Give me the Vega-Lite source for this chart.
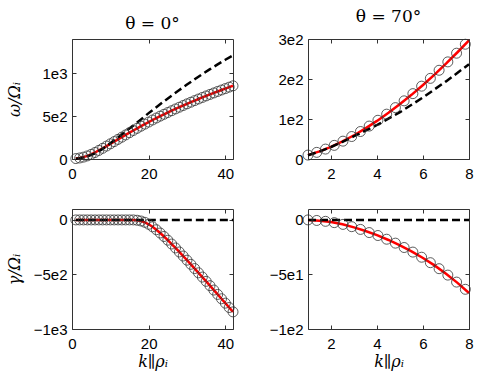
{
  "$schema": "https://vega.github.io/schema/vega-lite/v6.json",
  "background": "white",
  "padding": {"left": 5, "top": 7, "right": 5, "bottom": 5},
  "bounds": "flush",
  "spacing": {"row": 50, "column": 75},
  "columns": 2,
  "datasets": {
    "tl_c": [
      {"k":1,"v":5},{"k":2,"v":12},{"k":3,"v":22},{"k":4,"v":36},{"k":5,"v":54},{"k":6,"v":76},{"k":7,"v":100},{"k":8,"v":125},{"k":9,"v":151},{"k":10,"v":177},
      {"k":11,"v":203},{"k":12,"v":229},{"k":13,"v":255},{"k":14,"v":281},{"k":15,"v":307},{"k":16,"v":333},{"k":17,"v":358},{"k":18,"v":383},{"k":19,"v":407},{"k":20,"v":431},
      {"k":21,"v":455},{"k":22,"v":478},{"k":23,"v":500},{"k":24,"v":521.5},{"k":25,"v":542.5},{"k":26,"v":563.5},{"k":27,"v":584},{"k":28,"v":604},{"k":29,"v":624},{"k":30,"v":643.5},
      {"k":31,"v":662.5},{"k":32,"v":681.5},{"k":33,"v":700},{"k":34,"v":718},{"k":35,"v":736},{"k":36,"v":753.5},{"k":37,"v":771},{"k":38,"v":788},{"k":39,"v":805},{"k":40,"v":821.5},
      {"k":41,"v":838},{"k":42,"v":854}
    ],
    "tl_d": [
      {"k":1,"v":3},{"k":2,"v":8},{"k":4,"v":30},{"k":6,"v":65},{"k":8,"v":118},{"k":10,"v":185},{"k":12,"v":252},{"k":14,"v":322},{"k":16,"v":390},{"k":18,"v":462},
      {"k":20,"v":535},{"k":22,"v":605},{"k":24,"v":673},{"k":26,"v":740},{"k":28,"v":805},{"k":30,"v":868},{"k":32,"v":930},{"k":34,"v":990},{"k":36,"v":1048},{"k":38,"v":1104},
      {"k":40,"v":1158},{"k":42,"v":1210}
    ],
    "tr_c": [
      {"k":1,"v":9.8},{"k":1.38,"v":16.6},{"k":1.76,"v":24.8},{"k":2.14,"v":34.1},{"k":2.52,"v":44.6},{"k":2.9,"v":56.2},{"k":3.28,"v":68.7},{"k":3.66,"v":82.3},{"k":4.04,"v":96.8},{"k":4.42,"v":112.1},
      {"k":4.8,"v":128.4},{"k":5.18,"v":145.4},{"k":5.56,"v":163.4},{"k":5.94,"v":182.1},{"k":6.32,"v":201.6},{"k":6.7,"v":221.8},{"k":7.08,"v":242.8},{"k":7.46,"v":264.5},{"k":7.84,"v":286.9}
    ],
    "tr_r": [
      {"k":1,"v":9.8},{"k":1.5,"v":19.1},{"k":2,"v":30.5},{"k":2.5,"v":44.0},{"k":3,"v":59.4},{"k":3.5,"v":76.5},{"k":4,"v":95.2},{"k":4.5,"v":115.4},
      {"k":5,"v":137.3},{"k":5.5,"v":160.4},{"k":6,"v":185.1},{"k":6.5,"v":211.1},{"k":7,"v":238.3},{"k":7.5,"v":266.9},{"k":8,"v":296.6}
    ],
    "tr_d": [
      {"k":1,"v":9.5},{"k":1.5,"v":18.5},{"k":2,"v":30},{"k":2.5,"v":43},{"k":3,"v":57},{"k":3.5,"v":71},{"k":4,"v":85},{"k":5,"v":117},{"k":6,"v":154},{"k":7,"v":194},{"k":8,"v":237}
    ],
    "bl_c": [
      {"k":1,"v":0},{"k":2,"v":0},{"k":3,"v":0},{"k":4,"v":0},{"k":5,"v":0},{"k":6,"v":0},{"k":7,"v":0},{"k":8,"v":0},{"k":9,"v":0},{"k":10,"v":0},
      {"k":11,"v":0},{"k":12,"v":0},{"k":13,"v":0},{"k":14,"v":0},{"k":15,"v":0},{"k":16,"v":0},{"k":17,"v":-3},{"k":18,"v":-10},{"k":19,"v":-22},{"k":20,"v":-40},
      {"k":21,"v":-63},{"k":22,"v":-90},{"k":23,"v":-120},{"k":24,"v":-152},{"k":25,"v":-186},{"k":26,"v":-221},{"k":27,"v":-257},{"k":28,"v":-294},{"k":29,"v":-331},{"k":30,"v":-369},
      {"k":31,"v":-407},{"k":32,"v":-446},{"k":33,"v":-485},{"k":34,"v":-524},{"k":35,"v":-563},{"k":36,"v":-603},{"k":37,"v":-643},{"k":38,"v":-683},{"k":39,"v":-723},{"k":40,"v":-763},
      {"k":41,"v":-803},{"k":42,"v":-843}
    ],
    "bl_d": [{"k":1,"v":0},{"k":42,"v":0}],
    "br_c": [
      {"k":1,"v":0},{"k":1.38,"v":-0.5},{"k":1.76,"v":-1.3},{"k":2.14,"v":-2.5},{"k":2.52,"v":-4.1},{"k":2.9,"v":-6.2},{"k":3.28,"v":-8.7},{"k":3.66,"v":-11.6},{"k":4.04,"v":-14.3},{"k":4.42,"v":-17.7},
      {"k":4.8,"v":-21.3},{"k":5.18,"v":-25.3},{"k":5.56,"v":-29.5},{"k":5.94,"v":-34.2},{"k":6.32,"v":-39.2},{"k":6.7,"v":-44.7},{"k":7.08,"v":-50.6},{"k":7.46,"v":-57.0},{"k":7.84,"v":-63.6}
    ],
    "br_r": [
      {"k":1,"v":0},{"k":1.5,"v":-0.7},{"k":2,"v":-2.0},{"k":2.5,"v":-4.0},{"k":3,"v":-6.8},{"k":3.5,"v":-10.2},{"k":4,"v":-14.0},{"k":4.5,"v":-18.4},
      {"k":5,"v":-23.3},{"k":5.5,"v":-28.8},{"k":6,"v":-34.9},{"k":6.5,"v":-41.7},{"k":7,"v":-49.3},{"k":7.5,"v":-57.7},{"k":8,"v":-67.0}
    ],
    "br_d": [{"k":1,"v":0},{"k":8,"v":0}]
  },
  "concat": [
    {
      "width": 161, "height": 120,
      "title": {"text": "θ = 0°"},
      "layer": [
        {"data": {"name": "tl_c"}, "mark": {"type": "line", "color": "#ff0000", "strokeWidth": 2.5},
         "encoding": {
           "x": {"field": "k", "type": "quantitative", "scale": {"domain": [0, 42], "nice": false, "zero": false}, "axis": {"values": [0, 20, 40], "title": null}},
           "y": {"field": "v", "type": "quantitative", "scale": {"domain": [0, 1400], "nice": false, "zero": false}, "axis": {"values": [0, 500, 1000], "title": "ω/Ωᵢ", "titlePadding": 19, "labelExpr": "datum.value == 0 ? '0' : replace(format(datum.value, '.0e'), '+', '')"}}
         }},
        {"data": {"name": "tl_d"}, "mark": {"type": "line", "color": "#000", "strokeWidth": 2.5, "strokeDash": [8, 4]},
         "encoding": {
           "x": {"field": "k", "type": "quantitative", "scale": {"domain": [0, 42], "nice": false, "zero": false}, "axis": null},
           "y": {"field": "v", "type": "quantitative", "scale": {"domain": [0, 1400], "nice": false, "zero": false}, "axis": null}
         }},
        {"data": {"name": "tl_c"}, "mark": {"type": "point", "shape": "circle", "size": 100, "filled": false, "color": "#333", "strokeWidth": 0.8, "opacity": 1},
         "encoding": {
           "x": {"field": "k", "type": "quantitative", "scale": {"domain": [0, 42], "nice": false, "zero": false}, "axis": {"orient": "top", "values": [0, 20, 40], "labels": false, "title": null}},
           "y": {"field": "v", "type": "quantitative", "scale": {"domain": [0, 1400], "nice": false, "zero": false}, "axis": {"orient": "right", "values": [0, 500, 1000], "labels": false, "title": null}}
         }}
      ],
      "resolve": {"axis": {"x": "independent", "y": "independent"}}
    },
    {
      "width": 161, "height": 120,
      "title": {"text": "θ = 70°"},
      "layer": [
        {"data": {"name": "tr_r"}, "mark": {"type": "line", "color": "#ff0000", "strokeWidth": 2.5},
         "encoding": {
           "x": {"field": "k", "type": "quantitative", "scale": {"domain": [1, 8], "nice": false, "zero": false}, "axis": {"values": [2, 4, 6, 8], "title": null}},
           "y": {"field": "v", "type": "quantitative", "scale": {"domain": [0, 300], "nice": false, "zero": false}, "axis": {"values": [0, 100, 200, 300], "title": null, "labelExpr": "datum.value == 0 ? '0' : replace(format(datum.value, '.0e'), '+', '')"}}
         }},
        {"data": {"name": "tr_d"}, "mark": {"type": "line", "color": "#000", "strokeWidth": 2.5, "strokeDash": [8, 4]},
         "encoding": {
           "x": {"field": "k", "type": "quantitative", "scale": {"domain": [1, 8], "nice": false, "zero": false}, "axis": null},
           "y": {"field": "v", "type": "quantitative", "scale": {"domain": [0, 300], "nice": false, "zero": false}, "axis": null}
         }},
        {"data": {"name": "tr_c"}, "mark": {"type": "point", "shape": "circle", "size": 100, "filled": false, "color": "#333", "strokeWidth": 0.8, "opacity": 1},
         "encoding": {
           "x": {"field": "k", "type": "quantitative", "scale": {"domain": [1, 8], "nice": false, "zero": false}, "axis": {"orient": "top", "values": [2, 4, 6, 8], "labels": false, "title": null}},
           "y": {"field": "v", "type": "quantitative", "scale": {"domain": [0, 300], "nice": false, "zero": false}, "axis": {"orient": "right", "values": [0, 100, 200, 300], "labels": false, "title": null}}
         }}
      ],
      "resolve": {"axis": {"x": "independent", "y": "independent"}}
    },
    {
      "width": 161, "height": 120,
      "layer": [
        {"data": {"name": "bl_c"}, "mark": {"type": "line", "color": "#ff0000", "strokeWidth": 2.5},
         "encoding": {
           "x": {"field": "k", "type": "quantitative", "scale": {"domain": [0, 42], "nice": false, "zero": false}, "axis": {"values": [0, 20, 40], "title": "k∥ρᵢ"}},
           "y": {"field": "v", "type": "quantitative", "scale": {"domain": [-1000, 100], "nice": false, "zero": false}, "axis": {"values": [0, -500, -1000], "title": "γ/Ωᵢ", "titlePadding": 11, "labelExpr": "datum.value == 0 ? '0' : replace(format(datum.value, '.0e'), '+', '')"}}
         }},
        {"data": {"name": "bl_d"}, "mark": {"type": "line", "color": "#000", "strokeWidth": 2.5, "strokeDash": [8, 4]},
         "encoding": {
           "x": {"field": "k", "type": "quantitative", "scale": {"domain": [0, 42], "nice": false, "zero": false}, "axis": null},
           "y": {"field": "v", "type": "quantitative", "scale": {"domain": [-1000, 100], "nice": false, "zero": false}, "axis": null}
         }},
        {"data": {"name": "bl_c"}, "mark": {"type": "point", "shape": "circle", "size": 100, "filled": false, "color": "#333", "strokeWidth": 0.8, "opacity": 1},
         "encoding": {
           "x": {"field": "k", "type": "quantitative", "scale": {"domain": [0, 42], "nice": false, "zero": false}, "axis": {"orient": "top", "values": [0, 20, 40], "labels": false, "title": null}},
           "y": {"field": "v", "type": "quantitative", "scale": {"domain": [-1000, 100], "nice": false, "zero": false}, "axis": {"orient": "right", "values": [0, -500, -1000], "labels": false, "title": null}}
         }}
      ],
      "resolve": {"axis": {"x": "independent", "y": "independent"}}
    },
    {
      "width": 161, "height": 120,
      "layer": [
        {"data": {"name": "br_r"}, "mark": {"type": "line", "color": "#ff0000", "strokeWidth": 2.5},
         "encoding": {
           "x": {"field": "k", "type": "quantitative", "scale": {"domain": [1, 8], "nice": false, "zero": false}, "axis": {"values": [2, 4, 6, 8], "title": "k∥ρᵢ"}},
           "y": {"field": "v", "type": "quantitative", "scale": {"domain": [-100, 10], "nice": false, "zero": false}, "axis": {"values": [0, -50, -100], "title": null, "labelExpr": "datum.value == 0 ? '0' : replace(format(datum.value, '.0e'), '+', '')"}}
         }},
        {"data": {"name": "br_d"}, "mark": {"type": "line", "color": "#000", "strokeWidth": 2.5, "strokeDash": [8, 4]},
         "encoding": {
           "x": {"field": "k", "type": "quantitative", "scale": {"domain": [1, 8], "nice": false, "zero": false}, "axis": null},
           "y": {"field": "v", "type": "quantitative", "scale": {"domain": [-100, 10], "nice": false, "zero": false}, "axis": null}
         }},
        {"data": {"name": "br_c"}, "mark": {"type": "point", "shape": "circle", "size": 100, "filled": false, "color": "#333", "strokeWidth": 0.8, "opacity": 1},
         "encoding": {
           "x": {"field": "k", "type": "quantitative", "scale": {"domain": [1, 8], "nice": false, "zero": false}, "axis": {"orient": "top", "values": [2, 4, 6, 8], "labels": false, "title": null}},
           "y": {"field": "v", "type": "quantitative", "scale": {"domain": [-100, 10], "nice": false, "zero": false}, "axis": {"orient": "right", "values": [0, -50, -100], "labels": false, "title": null}}
         }}
      ],
      "resolve": {"axis": {"x": "independent", "y": "independent"}}
    }
  ],
  "config": {
    "font": "Liberation Sans",
    "view": {"stroke": "#333", "strokeWidth": 1},
    "axis": {
      "grid": false, "domain": false, "ticks": true, "tickSize": -4, "tickColor": "#333", "tickWidth": 1,
      "labelFont": "Liberation Sans", "labelFontSize": 15, "labelColor": "#000", "labelFlush": false, "labelOverlap": false,
      "titleFont": "DejaVu Serif", "titleFontSize": 16, "titleFontWeight": "normal", "titleFontStyle": "italic", "titleColor": "#000"
    },
    "axisX": {"labelPadding": 11, "titlePadding": 2},
    "axisY": {"labelPadding": 9, "titlePadding": 17},
    "title": {"font": "DejaVu Serif", "fontSize": 17, "fontWeight": "normal", "color": "#000", "offset": 6, "anchor": "middle", "frame": "group"}
  }
}
